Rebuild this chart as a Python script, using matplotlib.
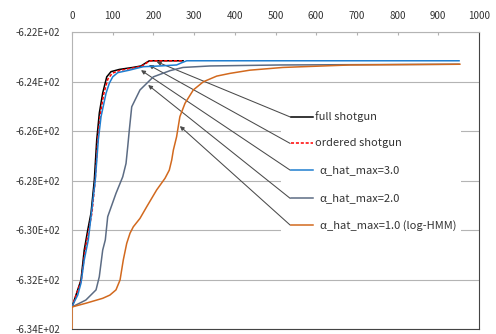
import matplotlib as mpl
mpl.use('Agg')
import matplotlib.pyplot as plt
import matplotlib.ticker as ticker
from matplotlib.patches import Rectangle

plt.rcParams['font.family'] = ['Noto Sans CJK JP', 'DejaVu Sans']
plt.rcParams['font.size'] = 7

# --- data ---
full_x = [0, 22, 30, 38.6, 46.7, 54.8, 60.7, 67.1, 75.4, 85.3, 95.8, 116.2, 149, 169.5, 181.8, 190, 273]
full_y = [-633.11, -632.02, -630.81, -630.0, -629.31, -627.98, -626.36, -625.27, -624.46, -623.81,
          -623.60, -623.51, -623.43, -623.37, -623.24, -623.16, -623.16]

ordered_x = [0, 23, 32, 41, 49, 57, 63, 70, 78, 88, 99, 118, 150, 171, 183, 192, 273]
ordered_y = [-633.11, -632.02, -630.81, -630.0, -629.31, -627.98, -626.36, -625.27, -624.50, -623.90,
             -623.66, -623.55, -623.45, -623.38, -623.25, -623.16, -623.16]

a3_x = [0, 5.7, 14, 22, 30, 40, 57.2, 64.6, 71.3, 83.5, 91.6, 100, 112.3, 140.8, 175, 216, 257, 269.5, 281.8, 951]
a3_y = [-633.11, -632.9, -632.63, -632.15, -631.21, -630.40, -627.98, -626.36, -625.42, -624.48,
        -624.07, -623.81, -623.64, -623.54, -623.40, -623.37, -623.33, -623.24, -623.16, -623.16]

a2_x = [0, 34, 59, 67, 75.4, 81.8, 87.7, 108, 124.6, 132.7, 136.9, 140.8, 146.7, 167, 199.8, 240.8,
        272.7, 339, 511, 951]
a2_y = [-633.11, -632.83, -632.42, -631.89, -630.81, -630.40, -629.46, -628.52, -627.85, -627.31,
        -626.63, -625.96, -625.02, -624.34, -623.81, -623.56, -623.43, -623.37, -623.33, -623.30]

a1_x = [0, 0, 34, 75.4, 93, 108, 118, 126, 134.4, 142.5, 150.6, 167, 183.5, 208, 228.5, 239, 245, 249,
        257, 265, 277.6, 298, 322.6, 355.5, 388, 437, 518, 683, 953]
a1_y = [-634.0, -633.11, -632.96, -632.76, -632.63, -632.42, -632.02, -631.21, -630.54, -630.13, -629.87,
        -629.53, -629.06, -628.38, -627.91, -627.58, -627.17, -626.77, -626.23, -625.42, -624.88, -624.34,
        -624.01, -623.78, -623.67, -623.54, -623.43, -623.33, -623.30]

labels = ['full shotgun', 'ordered shotgun', 'α_hat_max=3.0', 'α_hat_max=2.0', 'α_hat_max=1.0 (log-HMM)']
arrow_x = [208, 189, 169.5, 187, 265]
arrow_y = [-623.20, -623.33, -623.54, -624.14, -625.80]

series = [(full_x, full_y), (ordered_x, ordered_y), (a3_x, a3_y), (a2_x, a2_y), (a1_x, a1_y)]
colors = ['#000000', '#ff0000', '#1f7ed0', '#5c6c84', '#d2691e']
styles = ['-', (0, (2, 1.2)), '-', '-', '-']

# label layout (data coords)
label_x = 536
label_y = [-625.43, -626.50, -627.58, -628.72, -629.80]
text_x = [597, 597, 609, 609, 609]

fig = plt.figure(figsize=(4.96, 3.34), dpi=100)
ax = fig.add_axes([0.1452, 0.015, 0.8205, 0.889])

ax.set_xlim(0, 1000)
ax.set_ylim(-634, -622)
ax.xaxis.set_major_locator(ticker.MultipleLocator(100))
ax.yaxis.set_major_locator(ticker.MultipleLocator(2))
ax.yaxis.set_major_formatter(ticker.FuncFormatter(lambda v, p: f'{v:.2E}'))
ax.xaxis.tick_top()
ax.tick_params(axis='x', direction='in', length=2.5, width=0.8, color='#b0b0b0',
               pad=8, labelcolor='#333333')
ax.tick_params(axis='y', length=0, pad=8.5, labelcolor='#333333')

ax.set_axisbelow(True)
ax.yaxis.grid(True, color='#b4b4b4', lw=0.8)
for side in ['left', 'top']:
    ax.spines[side].set_color('#b4b4b4')
for side in ['right', 'bottom']:
    ax.spines[side].set_color('#444444')

# white box behind the labels hides the gridlines there
ax.add_patch(Rectangle((514, -630.28), 442, 5.33, facecolor='white', edgecolor='none', zorder=1))

for (xs, ys), c, ls in zip(series, colors, styles):
    ax.plot(xs, ys, color=c, linestyle=ls, lw=1.1, zorder=4)

for i, lab in enumerate(labels):
    ax.annotate('', xy=(arrow_x[i], arrow_y[i]), xytext=(label_x, label_y[i]),
                arrowprops=dict(arrowstyle='-|>', color='#4a4a4a', lw=0.75,
                                mutation_scale=6, shrinkA=0, shrinkB=0), zorder=3)
    ax.plot([label_x + 1, 593], [label_y[i], label_y[i]], color=colors[i],
            linestyle=styles[i], lw=1.1, zorder=4)
    ax.text(text_x[i], label_y[i], lab, ha='left', va='center', color='#333333',
            fontsize=8, zorder=5)

fig.savefig('out.png')
plt.close(fig)
